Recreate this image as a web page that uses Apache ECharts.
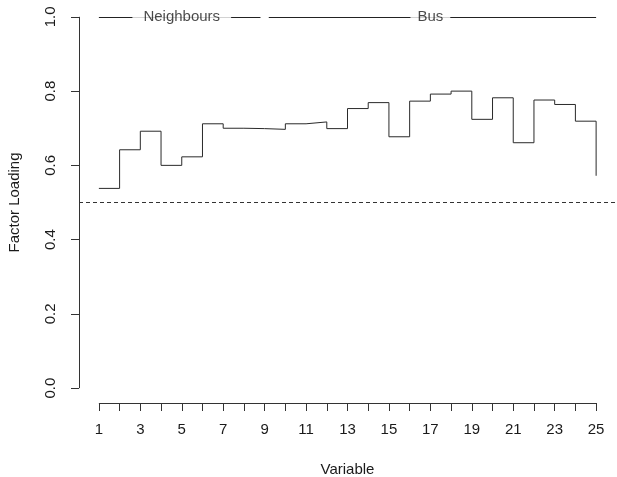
<!DOCTYPE html>
<html>
<head>
<meta charset="utf-8">
<script src="https://cdn.jsdelivr.net/npm/echarts@6/dist/echarts.min.js"></script>
<style>
  html, body { margin: 0; padding: 0; background: #ffffff; overflow: hidden; }
  #chart { width: 617px; height: 477px; }
</style>
</head>
<body>
<div id="chart"></div>
<script>
// Factor loadings per variable
const variables = [1, 2, 3, 4, 5, 6, 7, 8, 9, 10, 11, 12, 13, 14, 15, 16, 17, 18, 19, 20, 21, 22, 23, 24, 25];
const loadings = [0.538, 0.642, 0.692, 0.600, 0.623, 0.712, 0.700, 0.699, 0.697, 0.712, 0.717, 0.699, 0.753,
                  0.769, 0.677, 0.773, 0.792, 0.800, 0.724, 0.782, 0.661, 0.776, 0.764, 0.719, 0.572];
const threshold = 0.5;

// Axis ticks and labels
const xTickValues = [1, 2, 3, 4, 5, 6, 7, 8, 9, 10, 11, 12, 13, 14, 15, 16, 17, 18, 19, 20, 21, 22, 23, 24, 25];
const xLabelValues = [1, 3, 5, 7, 9, 11, 13, 15, 17, 19, 21, 23, 25];
const yTickValues = [0, 0.2, 0.4, 0.6, 0.8, 1.0];

// Variable groups drawn as brackets along the top
const groupNames = ['Neighbours', 'Bus'];
const groupSpans = [[1, 8.8], [9.2, 25]];
const groupCenters = [5, 17];
const groupLevel = 1.0;

// Plot range with 4% padding on each side
const xMin = 0.04, xMax = 25.96;
const yMin = -0.04, yMax = 1.04;

const FONT = "'Liberation Sans', Arial, Helvetica, sans-serif";
const INK = '#1a1a1a';

const chart = echarts.init(document.getElementById('chart'), null, {
  renderer: 'canvas', width: 617, height: 477
});

const noSym = ['none', 'none'];
const labelPads = [[2, 11, 2, 11], [2, 7, 2, 7]];

const option = {
  animation: false,
  backgroundColor: '#ffffff',
  textStyle: { fontFamily: FONT, color: INK },
  grid: { left: 79, right: 1, top: 2, bottom: 74, containLabel: false, outerBoundsMode: 'none' },
  xAxis: {
    type: 'value',
    min: xMin,
    max: xMax,
    name: 'Variable',
    nameLocation: 'middle',
    nameGap: 59,
    nameTextStyle: { fontFamily: FONT, fontSize: 15, color: INK },
    axisLine: { show: false, onZero: false },
    splitLine: { show: false },
    axisTick: {
      show: true,
      inside: false,
      length: 8,
      customValues: xTickValues,
      lineStyle: { color: '#333', width: 1 }
    },
    axisLabel: {
      show: true,
      margin: 19,
      customValues: xLabelValues,
      fontFamily: FONT,
      fontSize: 15,
      color: INK,
      formatter: v => String(Math.round(v))
    }
  },
  yAxis: {
    type: 'value',
    min: yMin,
    max: yMax,
    name: 'Factor Loading',
    nameLocation: 'middle',
    nameGap: 57,
    nameRotate: 90,
    nameTextStyle: { fontFamily: FONT, fontSize: 15, color: INK },
    axisLine: { show: false, onZero: false },
    splitLine: { show: false },
    axisTick: {
      show: true,
      inside: false,
      length: 8,
      customValues: yTickValues,
      lineStyle: { color: '#333', width: 1 }
    },
    axisLabel: {
      show: true,
      rotate: 90,
      margin: 21,
      customValues: yTickValues,
      fontFamily: FONT,
      fontSize: 15,
      color: INK,
      formatter: v => v.toFixed(1)
    }
  },
  series: [
    {
      name: 'Loading',
      type: 'line',
      step: 'end',
      symbol: 'none',
      data: variables.map((v, i) => [v, loadings[i]]),
      lineStyle: { color: '#2a2a2a', width: 1 },
      z: 3,
      markLine: {
        silent: true,
        symbol: noSym,
        label: { show: false },
        data: [
          // reference threshold
          { yAxis: threshold, lineStyle: { type: [4, 3], color: '#333', width: 1 } },
          // bottom axis line spanning the variables
          [
            { coord: [xTickValues[0], yMin], lineStyle: { type: 'solid', color: '#333', width: 1 } },
            { coord: [xTickValues[xTickValues.length - 1], yMin] }
          ],
          // left axis line spanning the tick range
          [
            { coord: [xMin, yTickValues[0]], lineStyle: { type: 'solid', color: '#333', width: 1 } },
            { coord: [xMin, yTickValues[yTickValues.length - 1]] }
          ]
        ]
      }
    },
    {
      name: 'Groups',
      type: 'line',
      data: [],
      symbol: 'none',
      z: 4,
      markLine: {
        silent: true,
        symbol: noSym,
        label: { show: false },
        lineStyle: { type: 'solid', color: '#222', width: 1 },
        data: groupSpans.map(s => [{ coord: [s[0], groupLevel] }, { coord: [s[1], groupLevel] }])
      }
    },
    {
      name: 'GroupLabels',
      type: 'scatter',
      symbolSize: 0,
      z: 10,
      silent: true,
      data: groupNames.map((n, i) => ({
        name: n,
        value: [groupCenters[i], groupLevel],
        label: { padding: labelPads[i] }
      })),
      label: {
        show: true,
        position: 'inside',
        formatter: p => p.name,
        fontFamily: FONT,
        fontSize: 15,
        color: INK,
        backgroundColor: '#ffffff'
      }
    }
  ]
};

chart.setOption(option);
</script>
</body>
</html>
